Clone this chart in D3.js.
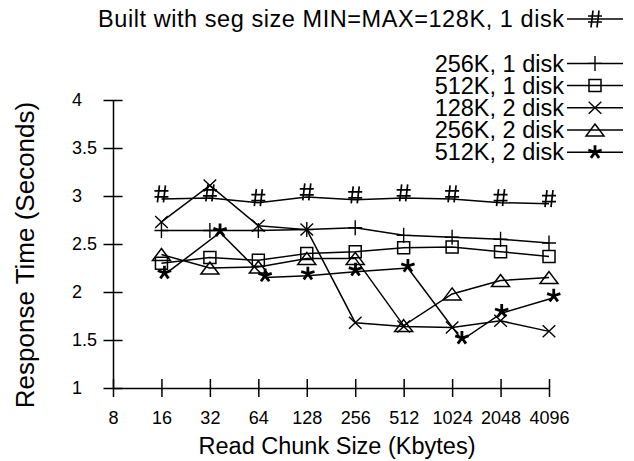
<!DOCTYPE html>
<html>
<head>
<meta charset="utf-8">
<script src="https://cdn.jsdelivr.net/npm/d3@7"></script>
<style>
  body { margin: 0; background: #fff; }
  text { font-family: "Liberation Sans", Arial, sans-serif; fill: #000; }
</style>
</head>
<body>
<div id="chart"></div>
<script>
// Define SVG area dimensions
var svgWidth = 634;
var svgHeight = 461;

var chartMargin = { top: 100, right: 85, bottom: 73, left: 113 };
var chartWidth = svgWidth - chartMargin.left - chartMargin.right;
var chartHeight = svgHeight - chartMargin.top - chartMargin.bottom;

// Data
var chunkSizes = [16, 32, 64, 128, 256, 512, 1024, 2048, 4096];
// the 512K / 2 disk points sit a little to the right of the others
var chunkSizesStar = [16.7, 37, 70.5, 130, 257, 544, 1178, 2082, 4383];
var xTicks = [8, 16, 32, 64, 128, 256, 512, 1024, 2048, 4096];
var yTicks = [1, 1.5, 2, 2.5, 3, 3.5, 4];

var seriesNames = [
  "Built with seg size MIN=MAX=128K, 1 disk",
  "256K, 1 disk",
  "512K, 1 disk",
  "128K, 2 disk",
  "256K, 2 disk",
  "512K, 2 disk"
];
var seg128k1 = [2.97, 2.98, 2.93, 2.99, 2.96, 2.98, 2.97, 2.93, 2.92];
var seg256k1 = [2.64, 2.64, 2.64, 2.65, 2.67, 2.59, 2.57, 2.55, 2.51];
var seg512k1 = [2.30, 2.36, 2.33, 2.40, 2.42, 2.46, 2.47, 2.42, 2.37];
var seg128k2 = [2.73, 3.11, 2.69, 2.65, 1.68, 1.64, 1.63, 1.70, 1.59];
var seg256k2 = [2.39, 2.25, 2.26, 2.35, 2.35, 1.65, 1.98, 2.12, 2.15];
var seg512k2 = [2.18, 2.62, 2.15, 2.17, 2.21, 2.25, 1.50, 1.78, 1.94];

// point shapes
var starPath = d3.range(5).map(function(i) {
  var a = (-90 + i * 72) * Math.PI / 180;
  return "M0,0L" + (7 * Math.cos(a)).toFixed(2) + "," + (7 * Math.sin(a)).toFixed(2);
}).join("");
var markers = {
  hash: "M-2,-8.5L-4,8.5M4,-8.5L2,8.5M-7,-3L7,-3M-7,3L7,3",
  plus: "M0,-7.5L0,7.5M-7,0L7,0",
  square: "M-6,-6H6V6H-6Z",
  cross: "M-6.3,-6L6.3,6M-6.3,6L6.3,-6",
  triangle: "M0,-6L9,6H-9Z",
  star: starPath
};

var series = [
  { name: seriesNames[0], xs: chunkSizes, ys: seg128k1, marker: "hash", width: 1.7, dy: -5 },
  { name: seriesNames[1], xs: chunkSizes, ys: seg256k1, marker: "plus", width: 1.4, dy: 0 },
  { name: seriesNames[2], xs: chunkSizes, ys: seg512k1, marker: "square", width: 1.5, dy: 0 },
  { name: seriesNames[3], xs: chunkSizes, ys: seg128k2, marker: "cross", width: 1.4, dy: 0 },
  { name: seriesNames[4], xs: chunkSizes, ys: seg256k2, marker: "triangle", width: 1.5, dy: 0 },
  { name: seriesNames[5], xs: chunkSizesStar, ys: seg512k2, marker: "star", width: 2.8, dy: -2 }
];

var svg = d3.select("#chart")
  .append("svg")
  .attr("width", svgWidth)
  .attr("height", svgHeight);

var chartGroup = svg.append("g")
  .attr("transform", `translate(${chartMargin.left}, ${chartMargin.top})`);

// Scales
var xScale = d3.scaleLog().base(2)
  .domain([8, 4096])
  .range([0, chartWidth]);

var yScale = d3.scaleLinear()
  .domain([1, 4])
  .range([chartHeight, 0]);

// Axes
var bottomAxis = d3.axisBottom(xScale)
  .tickValues(xTicks)
  .tickFormat(d3.format("d"))
  .tickSizeOuter(0);
var leftAxis = d3.axisLeft(yScale)
  .tickValues(yTicks)
  .tickFormat(function(d) { return String(d); })
  .tickSizeOuter(0);

var xAxisG = chartGroup.append("g")
  .attr("transform", "translate(0, " + chartHeight + ")")
  .call(bottomAxis);
xAxisG.selectAll(".tick line").attr("y1", -9).attr("y2", 9).attr("stroke-width", 1.5);
xAxisG.selectAll(".tick text").attr("y", 23).attr("font-size", 18);

var yAxisG = chartGroup.append("g").call(leftAxis);
yAxisG.selectAll(".tick line").attr("x1", -9.5).attr("x2", 9.5).attr("stroke-width", 1.5);
yAxisG.selectAll(".tick text")
  .attr("x", -41)
  .attr("text-anchor", "start")
  .attr("font-size", 18);

[xAxisG, yAxisG].forEach(function(g) {
  g.attr("font-family", null).attr("font-size", null);
  g.select(".domain").attr("stroke-width", 1.5);
});

// Lines and points
var line = d3.line()
  .x(function(d) { return xScale(d.x); })
  .y(function(d) { return yScale(d.y); });

series.forEach(function(s) {
  var pts = s.xs.map(function(x, i) { return { x: x, y: s.ys[i] }; });

  chartGroup.append("path")
    .datum(pts)
    .attr("fill", "none")
    .attr("stroke", "#000")
    .attr("stroke-width", 1.5)
    .attr("d", line);

  chartGroup.append("g")
    .selectAll("path")
    .data(pts)
    .enter().append("path")
    .attr("transform", function(d) {
      return "translate(" + xScale(d.x) + "," + (yScale(d.y) + s.dy) + ")";
    })
    .attr("d", markers[s.marker])
    .attr("fill", "none")
    .attr("stroke", "#000")
    .attr("stroke-width", s.width);
});

// Legend (top right, blank row after the first entry)
var legend = svg.append("g");
series.forEach(function(s, i) {
  var y = 19 + (i === 0 ? 0 : i + 1) * 22.2;
  var t = legend.append("text")
    .attr("x", 564)
    .attr("y", y)
    .attr("dy", "0.35em")
    .attr("text-anchor", "end")
    .attr("font-size", 23.5)
    .text(s.name);
  if (i === 0) t.attr("textLength", 466).attr("lengthAdjust", "spacing");
  legend.append("line")
    .attr("x1", 567).attr("x2", 623)
    .attr("y1", y).attr("y2", y)
    .attr("stroke", "#000")
    .attr("stroke-width", 1.5);
  legend.append("path")
    .attr("transform", "translate(595," + y + ")")
    .attr("d", markers[s.marker])
    .attr("fill", "none")
    .attr("stroke", "#000")
    .attr("stroke-width", s.width);
});

// Axis titles
svg.append("text")
  .attr("transform", "translate(34, 255) rotate(-90)")
  .attr("text-anchor", "middle")
  .attr("font-size", 26)
  .text("Response Time (Seconds)");

svg.append("text")
  .attr("x", 337)
  .attr("y", 454)
  .attr("text-anchor", "middle")
  .attr("font-size", 23.5)
  .text("Read Chunk Size (Kbytes)");
</script>
</body>
</html>
